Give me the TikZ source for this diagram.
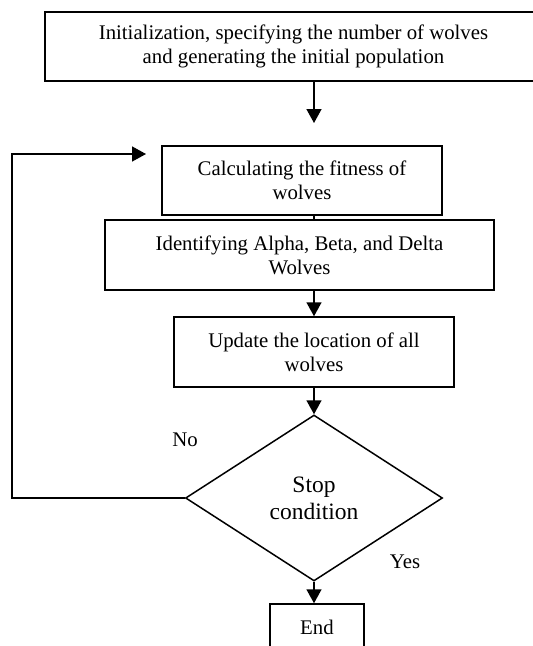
\documentclass[tikz,border=0pt]{standalone}
\usepackage{fontspec}
\setmainfont{Liberation Serif}
\usetikzlibrary{arrows.meta}
\usetikzlibrary{shapes.geometric}

\begin{document}
\begin{tikzpicture}[x=1pt,y=-1pt,
        box/.style={draw, line width=1.5pt, align=center, inner sep=0pt,
            font=\fontsize{20.8}{24}\selectfont},
        arr/.style={-{Triangle[width=15pt,length=14pt]}, line width=1.5pt}]
        \useasboundingbox (0,0) rectangle (533,646);
        \clip (0,0) rectangle (533,646);

        \node[box, minimum width=497, minimum height=69] (init) at (293.5,46.5)
            {Initialization, specifying the number of wolves\\and generating the initial population};
        \node[box, minimum width=280, minimum height=69] (fit)  at (302,180.5)
            {Calculating the fitness of\\wolves};
        \node[box, minimum width=389, minimum height=70] (ident) at (299.5,255)
            {Identifying Alpha, Beta, and Delta\\Wolves};
        \node[box, minimum width=280, minimum height=70] (upd) at (314,352)
            {Update the location of all\\wolves};
        \node[box, diamond, aspect=1.55, minimum width=257, minimum height=166,
            font=\fontsize{23.5}{27}\selectfont] (stop) at (314,498) {Stop\\condition};
        \node[box, minimum width=94, minimum height=46] (end) at (317,627) {End};

        \node (no)  at (185,440) [font=\fontsize{20.8}{24}\selectfont] {No};
        \node (yes) at (405,562) [font=\fontsize{20.8}{24}\selectfont] {Yes};

        \coordinate (down) at (314,123);
        \coordinate (back) at (146,154);

        \draw[arr] (init.south -| upd) -- (down);
        \draw[line width=1.5pt] (fit.south -| upd) -- (ident.north -| upd);
        \draw[arr] (ident.south -| upd) -- (upd.north);
        \draw[arr] (upd) -- (stop.north);
        \draw[arr] (stop.south) -- (end.north -| stop);
        \draw[arr] (stop.west) -- ++(-173,0) |- (back);

    \end{tikzpicture}
\end{document}
